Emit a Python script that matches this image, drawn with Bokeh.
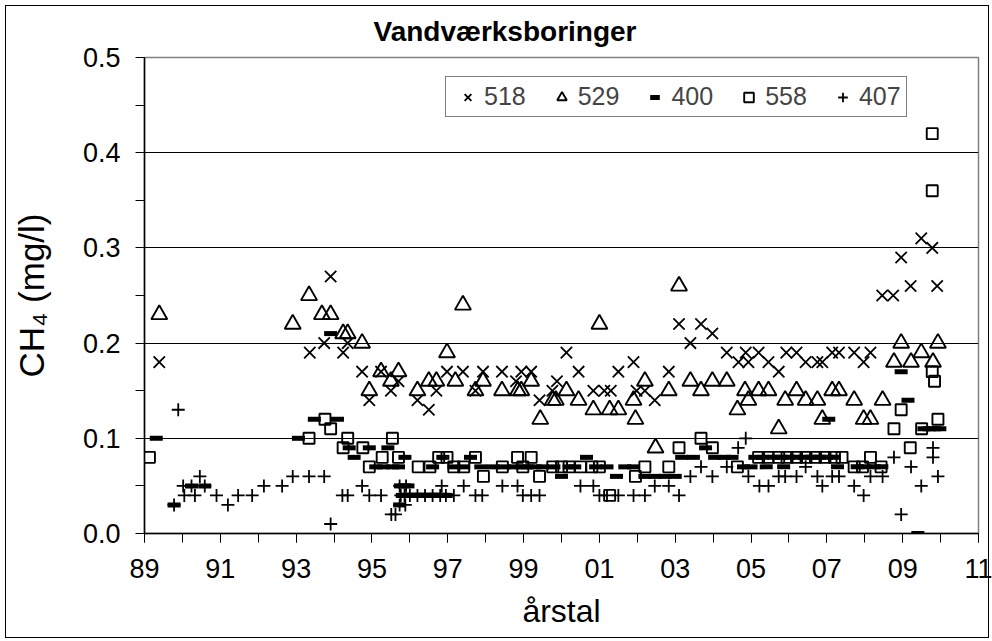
from bokeh.plotting import figure
from bokeh.models import Range1d, FixedTicker, Legend, LegendItem
from bokeh.embed import file_html
from bokeh.resources import INLINE

# ---------------- data (decimal year, CH4 mg/l) ----------------
yr_518 = [1989.39, 1993.36, 1993.74, 1993.91, 1994.24, 1994.36, 1994.74, 1994.93, 1995.24, 1995.5,
          1995.7, 1996.2, 1996.5, 1996.7, 1996.98, 1997.4, 1997.73, 1997.93, 1998.43, 1998.8,
          1998.94, 1999.2, 1999.42, 1999.76, 1999.88, 2000.13, 2000.45, 2000.84, 2001.13, 2001.3,
          2001.5, 2001.9, 2001.98, 2002.2, 2002.46, 2002.83, 2003.1, 2003.4, 2003.68, 2003.98,
          2004.36, 2004.67, 2004.86, 2004.93, 2005.2, 2005.46, 2005.73, 2005.93, 2006.2, 2006.44,
          2006.75, 2006.88, 2007.14, 2007.32, 2007.72, 2007.97, 2008.15, 2008.46, 2008.75, 2008.96,
          2009.21, 2009.49, 2009.78, 2009.91]
ch4_518 = [0.18, 0.19, 0.20, 0.27, 0.19, 0.20, 0.17, 0.14, 0.17, 0.15,
           0.16, 0.14, 0.13, 0.15, 0.17, 0.17, 0.15, 0.17, 0.17, 0.16,
           0.17, 0.17, 0.14, 0.15, 0.16, 0.19, 0.17, 0.15, 0.15, 0.15,
           0.17, 0.18, 0.15, 0.15, 0.14, 0.17, 0.22, 0.20, 0.22, 0.21,
           0.19, 0.18, 0.19, 0.18, 0.19, 0.18, 0.17, 0.19, 0.19, 0.18,
           0.18, 0.18, 0.19, 0.19, 0.19, 0.18, 0.19, 0.25, 0.25, 0.29,
           0.26, 0.31, 0.30, 0.26]

yr_529 = [1989.39, 1992.91, 1993.34, 1993.68, 1993.91, 1994.24, 1994.36, 1994.74, 1994.93, 1995.24,
          1995.5, 1995.7, 1996.2, 1996.5, 1996.7, 1996.98, 1997.2, 1997.4, 1997.73, 1997.93,
          1998.43, 1998.85, 1998.94, 1999.2, 1999.44, 1999.77, 1999.85, 2000.13, 2000.45, 2000.84,
          2001.0, 2001.27, 2001.5, 2001.9, 2001.95, 2002.2, 2002.48, 2002.83, 2003.1, 2003.4,
          2003.68, 2003.98, 2004.36, 2004.64, 2004.84, 2004.93, 2005.2, 2005.46, 2005.73, 2005.9,
          2006.2, 2006.44, 2006.75, 2006.88, 2007.14, 2007.32, 2007.72, 2007.97, 2008.15, 2008.47,
          2008.77, 2008.96, 2009.22, 2009.49, 2009.8, 2009.93]
ch4_529 = [0.23, 0.22, 0.25, 0.23, 0.23, 0.21, 0.21, 0.20, 0.15, 0.17,
           0.16, 0.17, 0.15, 0.16, 0.16, 0.19, 0.16, 0.24, 0.15, 0.16,
           0.15, 0.15, 0.15, 0.16, 0.12, 0.14, 0.14, 0.15, 0.14, 0.13,
           0.22, 0.13, 0.13, 0.14, 0.12, 0.16, 0.09, 0.15, 0.26, 0.16,
           0.15, 0.16, 0.16, 0.13, 0.15, 0.14, 0.15, 0.15, 0.11, 0.14,
           0.15, 0.14, 0.14, 0.12, 0.15, 0.15, 0.14, 0.12, 0.12, 0.14,
           0.18, 0.20, 0.18, 0.19, 0.18, 0.20]

yr_400 = [1989.31, 1989.78, 1990.24, 1990.59, 1993.06, 1993.48, 1993.91, 1994.09, 1994.4, 1994.53,
          1994.93, 1995.1, 1995.3, 1995.42, 1995.55, 1995.7, 1995.87, 1995.75, 1995.85, 1995.95,
          1995.73, 1995.80, 1995.84, 1995.88, 1995.92, 1995.96, 1996.00, 1996.04, 1996.08, 1996.12,
          1996.16, 1996.20, 1996.24, 1996.28, 1996.32, 1996.36, 1996.40, 1996.44, 1996.48, 1996.52,
          1996.56, 1996.60, 1996.64, 1996.68, 1996.72, 1996.76, 1996.80, 1996.84, 1996.88, 1996.92,
          1996.96, 1996.6, 1996.87, 1997.16, 1997.42, 1997.6, 1997.87, 1998.2, 1998.5, 1998.75,
          1998.95, 1999.1, 1999.3, 1999.5, 1999.8, 2000.0, 2000.2, 2000.35, 2000.66, 2000.9,
          2001.2, 2001.45, 2001.67, 2001.9, 2002.2, 2002.46, 2002.73, 2003.0, 2003.17, 2003.48,
          2003.8, 2004.04, 2004.3, 2004.5, 2004.8, 2005.0, 2005.1, 2005.3, 2005.4, 2005.6,
          2005.86, 2005.8, 2006.0, 2006.2, 2006.4, 2006.6, 2006.8, 2007.05, 2007.0, 2007.28,
          2007.2, 2007.8, 2008.0, 2008.25, 2008.45, 2008.96, 2009.14, 2009.4, 2009.56, 2009.7,
          2009.84, 2009.98]
ch4_400 = [0.10, 0.03, 0.05, 0.05, 0.10, 0.12, 0.21, 0.12, 0.09, 0.08,
           0.09, 0.07, 0.07, 0.09, 0.07, 0.07, 0.08, 0.05, 0.05, 0.05,
           0.03, 0.04, 0.04, 0.04, 0.04, 0.04, 0.04, 0.04, 0.04, 0.04,
           0.04, 0.04, 0.04, 0.04, 0.04, 0.04, 0.04, 0.04, 0.04, 0.04,
           0.04, 0.04, 0.04, 0.04, 0.04, 0.04, 0.04, 0.04, 0.04, 0.04,
           0.04, 0.07, 0.08, 0.07, 0.07, 0.08, 0.07, 0.07, 0.07, 0.07,
           0.07, 0.07, 0.07, 0.07, 0.07, 0.06, 0.07, 0.07, 0.08, 0.07,
           0.07, 0.06, 0.07, 0.07, 0.06, 0.06, 0.06, 0.06, 0.08, 0.08,
           0.09, 0.08, 0.08, 0.08, 0.07, 0.07, 0.08, 0.08, 0.07, 0.08,
           0.07, 0.08, 0.08, 0.08, 0.08, 0.08, 0.08, 0.12, 0.08, 0.07,
           0.08, 0.07, 0.07, 0.07, 0.07, 0.17, 0.14, 0.00, 0.11, 0.11,
           0.11, 0.11]

yr_558 = [1989.13, 1993.34, 1993.76, 1993.91, 1994.24, 1994.36, 1994.76, 1994.93, 1995.27, 1995.54,
          1995.7, 1996.22, 1996.53, 1996.76, 1996.98, 1997.16, 1997.42, 1997.73, 1997.94, 1998.44,
          1998.84, 1998.98, 1999.2, 1999.42, 1999.77, 2000.0, 2000.2, 2000.5, 2000.8, 2001.0,
          2001.27, 2001.95, 2002.2, 2002.83, 2003.1, 2003.68, 2003.98, 2004.64, 2005.2, 2005.45,
          2005.73, 2005.95, 2006.2, 2006.45, 2006.7, 2006.95, 2007.2, 2007.4, 2007.72, 2007.94,
          2008.15, 2008.43, 2008.77, 2008.96, 2009.2, 2009.5, 2009.78, 2009.78, 2009.78, 2009.84,
          2009.93]
ch4_558 = [0.08, 0.10, 0.12, 0.11, 0.09, 0.10, 0.09, 0.07, 0.08, 0.10,
           0.08, 0.07, 0.07, 0.08, 0.08, 0.07, 0.07, 0.08, 0.06, 0.07,
           0.08, 0.07, 0.08, 0.06, 0.07, 0.07, 0.07, 0.07, 0.07, 0.07,
           0.04, 0.06, 0.07, 0.07, 0.09, 0.10, 0.09, 0.07, 0.08, 0.08,
           0.08, 0.08, 0.08, 0.08, 0.08, 0.08, 0.08, 0.08, 0.07, 0.07,
           0.08, 0.07, 0.11, 0.13, 0.09, 0.11, 0.42, 0.36, 0.17, 0.16,
           0.12]

yr_407 = [1989.78, 1989.89, 1990.02, 1990.05, 1990.24, 1990.33, 1990.46, 1990.59, 1990.9, 1991.2,
          1991.47, 1991.84, 1992.15, 1992.63, 1992.91, 1993.34, 1993.74, 1993.91, 1994.22, 1994.36,
          1994.74, 1994.93, 1995.24, 1995.51, 1995.62, 1995.73, 1995.88, 1995.73, 1995.9, 1995.76,
          1995.86, 1996.0, 1996.2, 1996.4, 1996.6, 1996.8, 1996.95, 1996.84, 1997.16, 1997.42,
          1997.73, 1997.91, 1998.44, 1998.84, 1998.98, 1999.2, 1999.42, 2000.5, 2000.84, 2001.0,
          2001.2, 2001.5, 2001.9, 2002.2, 2002.46, 2002.83, 2003.1, 2003.4, 2003.68, 2003.98,
          2004.36, 2004.66, 2004.86, 2004.93, 2005.22, 2005.46, 2005.73, 2005.9, 2006.2, 2006.44,
          2006.75, 2006.88, 2007.14, 2007.32, 2007.72, 2007.97, 2008.15, 2008.47, 2008.77, 2008.96,
          2009.22, 2009.49, 2009.8, 2009.8, 2009.93]
ch4_407 = [0.03, 0.13, 0.05, 0.04, 0.05, 0.04, 0.06, 0.05, 0.04, 0.03,
           0.04, 0.04, 0.05, 0.05, 0.06, 0.06, 0.06, 0.01, 0.04, 0.04,
           0.05, 0.04, 0.04, 0.02, 0.02, 0.03, 0.03, 0.05, 0.05, 0.04,
           0.04, 0.04, 0.04, 0.04, 0.04, 0.04, 0.04, 0.05, 0.04, 0.05,
           0.04, 0.04, 0.05, 0.05, 0.04, 0.04, 0.04, 0.05, 0.05, 0.04,
           0.04, 0.04, 0.04, 0.04, 0.05, 0.05, 0.04, 0.06, 0.07, 0.06,
           0.07, 0.09, 0.10, 0.06, 0.05, 0.05, 0.06, 0.06, 0.06, 0.07,
           0.06, 0.05, 0.06, 0.06, 0.05, 0.04, 0.06, 0.06, 0.08, 0.02,
           0.07, 0.05, 0.09, 0.08, 0.06]

x_major = [1989, 1991, 1993, 1995, 1997, 1999, 2001, 2003, 2005, 2007, 2009, 2011]
x_labels = ["89", "91", "93", "95", "97", "99", "01", "03", "05", "07", "09", "11"]
x_minor = list(range(1989, 2012))
y_major = [0.0, 0.1, 0.2, 0.3, 0.4, 0.5]
y_labels = ["0.0", "0.1", "0.2", "0.3", "0.4", "0.5"]
y_minor = [0.05, 0.15, 0.25, 0.35, 0.45]
y_grid = [0.1, 0.2, 0.3, 0.4]

FONT = "Liberation Sans"

p = figure(width=992, height=641, output_backend="svg", toolbar_location=None,
           x_range=Range1d(1989, 2011), y_range=Range1d(0, 0.5),
           min_border_left=144, min_border_right=14, min_border_top=57, min_border_bottom=108)
# thin frame around the whole chart area
p.border_fill_alpha = 0
p.styles = {"box-shadow": ("inset 5px 5px 0 0 white, inset -3px -3px 0 0 white, "
                           "inset 6px 6px 0 0 black, inset -4px -4px 0 0 black")}

p.title.text = "Vandværksboringer"
p.title.text_font = FONT
p.title.text_font_size = "28px"
p.title.text_font_style = "bold"
p.title.text_color = "black"
p.title.align = "left"
p.title.offset = 229
p.title.standoff = 21

p.outline_line_color = "#808080"
p.outline_line_width = 1.5
p.background_fill_color = "white"

p.xgrid.visible = False
p.ygrid.ticker = FixedTicker(ticks=y_grid)
p.ygrid.grid_line_color = "black"
p.ygrid.grid_line_width = 1

for ax in (p.xaxis[0], p.yaxis[0]):
    ax.axis_line_color = "black"
    ax.axis_line_width = 1.5
    ax.major_tick_in = 0
    ax.major_tick_out = 9
    ax.minor_tick_in = 0
    ax.minor_tick_out = 9
    ax.major_tick_line_color = "black"
    ax.minor_tick_line_color = "black"
    ax.major_label_text_font = FONT
    ax.major_label_text_font_size = "27px"
    ax.major_label_text_color = "black"
    ax.axis_label_text_font = FONT
    ax.axis_label_text_font_style = "normal"
    ax.axis_label_text_color = "black"

p.xaxis.ticker = FixedTicker(ticks=x_major, minor_ticks=x_minor)
p.xaxis.major_label_overrides = {t: l for t, l in zip(x_major, x_labels)}
p.xaxis.major_label_standoff = 16
p.xaxis.axis_label = "årstal"
p.xaxis.axis_label_text_font_size = "32px"
p.xaxis.axis_label_standoff = 12

p.yaxis.ticker = FixedTicker(ticks=y_major, minor_ticks=y_minor)
p.yaxis.major_label_overrides = {t: l for t, l in zip(y_major, y_labels)}
p.yaxis.major_label_standoff = 15
p.yaxis.axis_label = "CH₄ (mg/l)"
p.yaxis.axis_label_text_font_size = "35px"
p.yaxis.axis_label_standoff = 29

r518 = p.scatter(yr_518, ch4_518, marker="x", size=16, line_color="black", line_width=1.8)
r529 = p.scatter(yr_529, ch4_529, marker="triangle", size=16, line_color="black",
                 fill_color=None, line_width=1.9)
r400 = p.scatter(yr_400, ch4_400, marker="dash", size=13, line_color="black", line_width=5)
r558 = p.scatter(yr_558, ch4_558, marker="square", size=11, line_color="black",
                 fill_color=None, line_width=1.9)
r407 = p.scatter(yr_407, ch4_407, marker="cross", size=13, line_color="black", line_width=1.8)

legend = Legend(items=[LegendItem(label="518", renderers=[r518]),
                       LegendItem(label="529", renderers=[r529]),
                       LegendItem(label="400", renderers=[r400]),
                       LegendItem(label="558", renderers=[r558]),
                       LegendItem(label="407", renderers=[r407])],
                orientation="horizontal", location=(301, 416), margin=0,
                padding=5, spacing=19, glyph_width=33, glyph_height=24, label_standoff=0,
                label_text_font=FONT, label_text_font_size="25px",
                border_line_color="black", border_line_width=1,
                background_fill_color="white", background_fill_alpha=1)
p.add_layout(legend, "center")

open("out.html", "w").write(file_html(p, INLINE))
